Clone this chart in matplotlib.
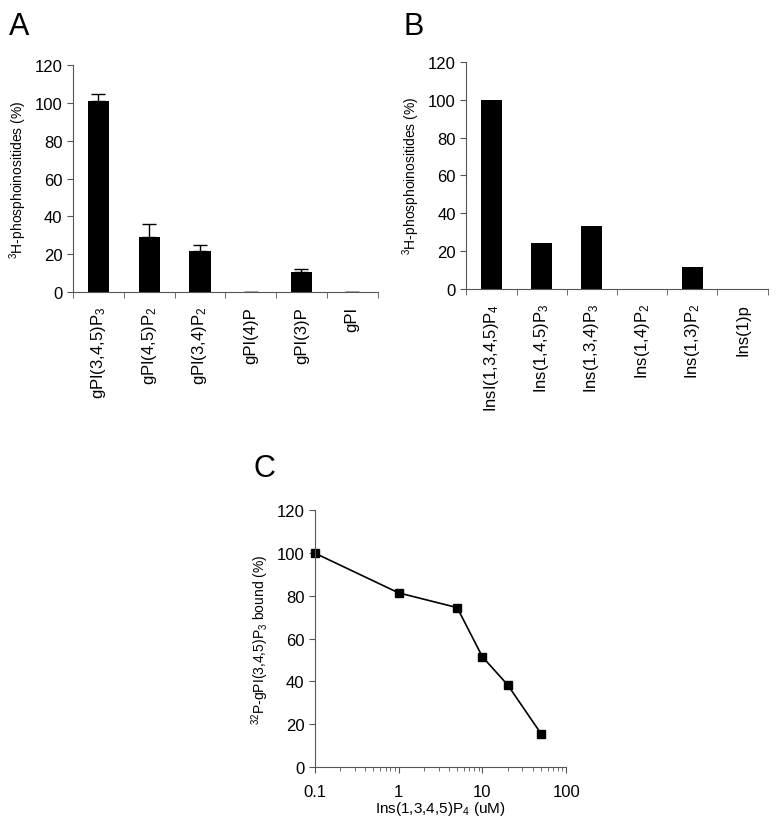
import matplotlib
matplotlib.use("Agg")
import matplotlib.pyplot as plt
from matplotlib.ticker import FixedLocator, NullFormatter

plt.rcParams['font.family'] = ['Liberation Sans', 'DejaVu Sans']
plt.rcParams['mathtext.fontset'] = 'custom'
plt.rcParams['mathtext.rm'] = 'Liberation Sans'

# panel A data
labels_a = [r'gPI(3,4,5)P$\mathregular{_3}$', r'gPI(4,5)P$\mathregular{_2}$',
            r'gPI(3,4)P$\mathregular{_2}$', 'gPI(4)P', 'gPI(3)P', 'gPI']
values_a = [101, 29, 22, 0, 10.5, 0]
err_a = [4, 7, 3, 0, 1.5, 0]

# panel B data
labels_b = [r'InsI(1,3,4,5)P$\mathregular{_4}$', r'Ins(1,4,5)P$\mathregular{_3}$',
            r'Ins(1,3,4)P$\mathregular{_3}$', r'Ins(1,4)P$\mathregular{_2}$',
            r'Ins(1,3)P$\mathregular{_2}$', 'Ins(1)p']
values_b = [100, 24, 33, 0, 11.5, 0]

# panel C data
conc_c = [0.1, 1, 5, 10, 20, 50]
bound_c = [100, 81.4, 74.5, 51.5, 38.4, 15.6]

fig = plt.figure(figsize=(7.81, 8.28), dpi=100)


def bar_panel(ax, labels, values, err=None):
    x = range(len(labels))
    ax.bar(x, values, width=0.42, color='black', zorder=2)
    if err is not None:
        ax.errorbar(x, values, yerr=[[0] * len(err), err], fmt='none',
                    ecolor='black', elinewidth=1, capsize=5, capthick=1)
    ax.set_xlim(-0.5, len(labels) - 0.5)
    ax.set_ylim(0, 120)
    ax.set_yticks(range(0, 121, 20))
    ax.set_xticks(list(x))
    ax.set_xticklabels(labels, rotation=90, fontsize=12)
    ax.xaxis.set_minor_locator(FixedLocator([i - 0.5 for i in range(len(labels) + 1)]))
    ax.tick_params(axis='x', which='major', length=0, pad=10)
    ax.tick_params(axis='x', which='minor', length=4, direction='out')
    ax.tick_params(axis='y', labelsize=12, length=4, direction='out')
    for s in ['top', 'right']:
        ax.spines[s].set_visible(False)
    for s in ['left', 'bottom']:
        ax.spines[s].set_linewidth(0.8)
        ax.spines[s].set_color('#555555')
    ax.tick_params(colors='#555555', which='both', labelcolor='black')
    ax.set_ylabel(r'$\mathregular{^3}$H-phosphoinositides (%)', fontsize=10)


ax_a = fig.add_axes([0.0935, 0.646, 0.390, 0.274])
bar_panel(ax_a, labels_a, values_a, err_a)

ax_b = fig.add_axes([0.597, 0.650, 0.386, 0.274])
bar_panel(ax_b, labels_b, values_b)

ax_c = fig.add_axes([0.403, 0.0725, 0.322, 0.310])
ax_c.plot(conc_c, bound_c, color='black', lw=1.2, marker='s', markersize=6,
          clip_on=False)
ax_c.set_xscale('log')
ax_c.set_xlim(0.1, 100)
ax_c.set_ylim(0, 120)
ax_c.set_yticks(range(0, 121, 20))
ax_c.set_xticks([0.1, 1, 10, 100])
ax_c.set_xticklabels(['0.1', '1', '10', '100'])
ax_c.xaxis.set_minor_formatter(NullFormatter())
ax_c.tick_params(labelsize=12, length=4, direction='out')
ax_c.tick_params(axis='x', pad=8)
ax_c.tick_params(which='minor', length=3, direction='out')
ax_c.tick_params(colors='#555555', which='both', labelcolor='black')
for s in ['top', 'right']:
    ax_c.spines[s].set_visible(False)
for s in ['left', 'bottom']:
    ax_c.spines[s].set_linewidth(0.8)
    ax_c.spines[s].set_color('#555555')
ax_c.set_ylabel(r'$\mathregular{^{32}}$P-gPI(3,4,5)P$\mathregular{_3}$ bound (%)', fontsize=10)
ax_c.set_xlabel(r'Ins(1,3,4,5)P$\mathregular{_4}$ (uM)', fontsize=11, labelpad=0)

fig.text(0.012, 0.958, 'A', fontsize=22)
fig.text(0.517, 0.958, 'B', fontsize=22)
fig.text(0.324, 0.424, 'C', fontsize=22)

fig.savefig('out.png', dpi=100)
